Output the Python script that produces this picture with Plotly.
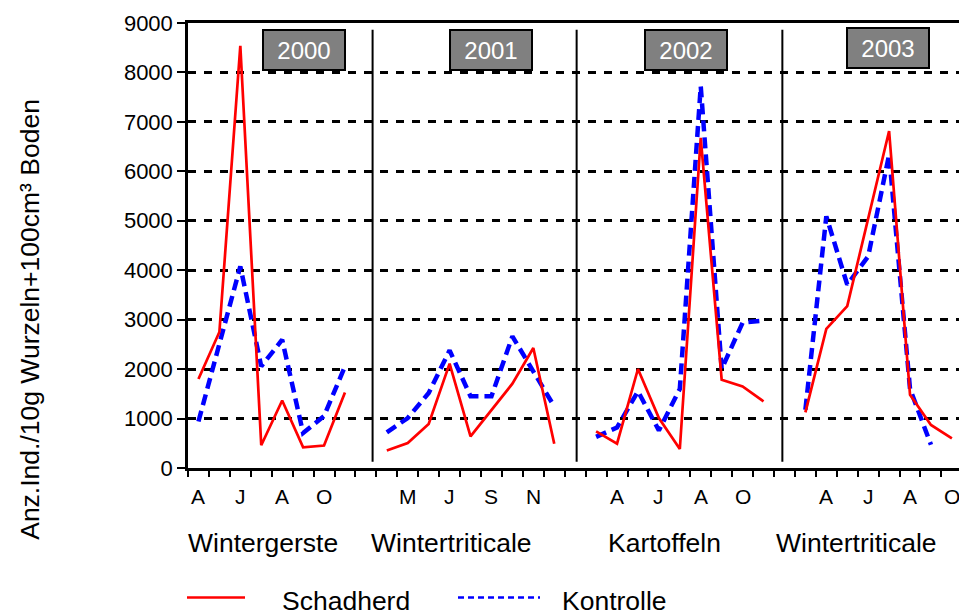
import plotly.graph_objects as go

# ---- data ----
years = ["2000", "2001", "2002", "2003"]
crops = ["Wintergerste", "Wintertriticale", "Kartoffeln", "Wintertriticale"]
# sample slot indices (category positions) for each season
slots_2000 = [0, 1, 2, 3, 4, 5, 6, 7]
slots_2001 = [9, 10, 11, 12, 13, 14, 15, 16, 17]
slots_2002 = [19, 20, 21, 22, 23, 24, 25, 26, 27]
slots_2003 = [29, 30, 31, 32, 33, 34, 35, 36]

schad_2000 = [1800, 2750, 8540, 460, 1365, 420, 455, 1525]
schad_2001 = [356, 505, 889, 2110, 640, 1180, 1705, 2427, 492]
schad_2002 = [741, 492, 2002, 1011, 384, 6675, 1786, 1650, 1347]
schad_2003 = [1125, 2815, 3275, 5030, 6815, 1480, 870, 600]

kontr_2000 = [940, 2500, 4078, 2055, 2595, 708, 1050, 2055]
kontr_2001 = [720, 1011, 1517, 2380, 1450, 1450, 2663, 1954, 1246]
kontr_2002 = [630, 820, 1550, 760, 1600, 7720, 2002, 2940, 2980]
kontr_2003 = [1180, 5090, 3707, 4280, 6337, 1600, 471]

month_labels = ["A", "J", "A", "O", "M", "J", "S", "N", "A", "J", "A", "O", "A", "J", "A", "O"]
month_slots = [0, 2, 4, 6, 10, 12, 14, 16, 20, 22, 24, 26, 30, 32, 34, 36]

FONT = "Liberation Sans, Arial, sans-serif"
RED = "#FF0000"
BLUE = "#0000FF"

W, H = 959, 615
PL, PT, PR, PB = 188, 23, 959, 468.3  # plot area in window pixels
PW, PH = PR - PL, PB - PT


def px(xw):
    return (xw - PL) / PW


def py(yw):
    return (PB - yw) / PH


fig = go.Figure()


def c(slots):
    return [s + 0.5 for s in slots]


schad = [(slots_2000, schad_2000), (slots_2001, schad_2001), (slots_2002, schad_2002), (slots_2003, schad_2003)]
kontr = [(slots_2000, kontr_2000), (slots_2001, kontr_2001), (slots_2002, kontr_2002),
         (slots_2003[:len(kontr_2003)], kontr_2003)]

for s, v in kontr:
    fig.add_trace(go.Scatter(x=c(s), y=v, mode="lines", name="Kontrolle",
                             line=dict(color=BLUE, width=4.5, dash="11px,6px"),
                             showlegend=False, cliponaxis=False))
for s, v in schad:
    fig.add_trace(go.Scatter(x=c(s), y=v, mode="lines", name="Schadherd",
                             line=dict(color=RED, width=2.7),
                             showlegend=False, cliponaxis=False))

# separators between seasons
for xs in [8.82, 18.57, 28.4]:
    fig.add_shape(type="line", xref="x", yref="y", x0=xs, x1=xs, y0=127, y1=8865,
                  line=dict(color="black", width=2))

# year boxes
for yr, xw, yw in zip(years, [304, 491, 686, 888], [50, 50, 50, 48]):
    fig.add_annotation(text=yr, xref="paper", yref="paper", x=px(xw), y=py(yw),
                       showarrow=False, xanchor="center", yanchor="middle",
                       width=78, height=36, bgcolor="#808080", bordercolor="black",
                       borderwidth=2, borderpad=1,
                       font=dict(family=FONT, size=24, color="white"))

# month labels
for lab, s in zip(month_labels, month_slots):
    fig.add_annotation(text=lab, xref="x", yref="paper", x=s + 0.5, y=py(497),
                       showarrow=False, xanchor="center", yanchor="middle",
                       font=dict(family=FONT, size=21, color="black"))

# crop labels
for crop, xw in zip(crops, [263, 451, 664, 856]):
    fig.add_annotation(text=crop, xref="paper", yref="paper", x=px(xw), y=py(543),
                       showarrow=False, xanchor="center", yanchor="middle",
                       font=dict(family=FONT, size=26.5, color="black"))

# y title
fig.add_annotation(text="Anz.Ind./10g Wurzeln+100cm³ Boden", xref="paper", yref="paper",
                   x=px(30), y=py(320), textangle=-90,
                   showarrow=False, xanchor="center", yanchor="middle",
                   font=dict(family=FONT, size=26.5, color="black"))

# manual legend
ly = py(598)
fig.add_shape(type="line", xref="paper", yref="paper", x0=px(187), x1=px(245),
              y0=ly, y1=ly, line=dict(color=RED, width=2.5))
fig.add_shape(type="line", xref="paper", yref="paper", x0=px(458), x1=px(540),
              y0=ly, y1=ly, line=dict(color=BLUE, width=2.5, dash="6px,4px"))
fig.add_annotation(text="Schadherd", xref="paper", yref="paper", x=px(280), y=py(601),
                   showarrow=False, xanchor="left", yanchor="middle",
                   font=dict(family=FONT, size=26.5, color="black"))
fig.add_annotation(text="Kontrolle", xref="paper", yref="paper", x=px(560), y=py(601),
                   showarrow=False, xanchor="left", yanchor="middle",
                   font=dict(family=FONT, size=26.5, color="black"))

fig.update_layout(
    width=W, height=H,
    margin=dict(l=PL, r=W - PR, t=PT, b=H - PB, autoexpand=False),
    paper_bgcolor="white", plot_bgcolor="white",
    font=dict(family=FONT, color="black"),
    showlegend=False,
    hovermode=False,
    xaxis=dict(range=[0, 36.84], tickvals=list(range(0, 37)), showticklabels=False,
               ticks="outside", ticklen=6, tickwidth=2, tickcolor="black",
               showgrid=False, zeroline=False, showline=True, linewidth=3, linecolor="black",
               mirror=True, automargin=False),
    yaxis=dict(range=[0, 9000], tickvals=list(range(0, 9001, 1000)),
               ticks="outside", ticklen=8, tickwidth=2, tickcolor="black",
               tickfont=dict(family=FONT, size=22, color="black"),
               showgrid=True, gridcolor="black", gridwidth=2.5, griddash="8px,8px",
               zeroline=False, showline=True, linewidth=2.5, linecolor="black",
               automargin=False),
)

fig.write_html("out.html", config={"displayModeBar": False},
               post_script="document.body.style.margin='0';document.body.style.overflow='hidden';")
